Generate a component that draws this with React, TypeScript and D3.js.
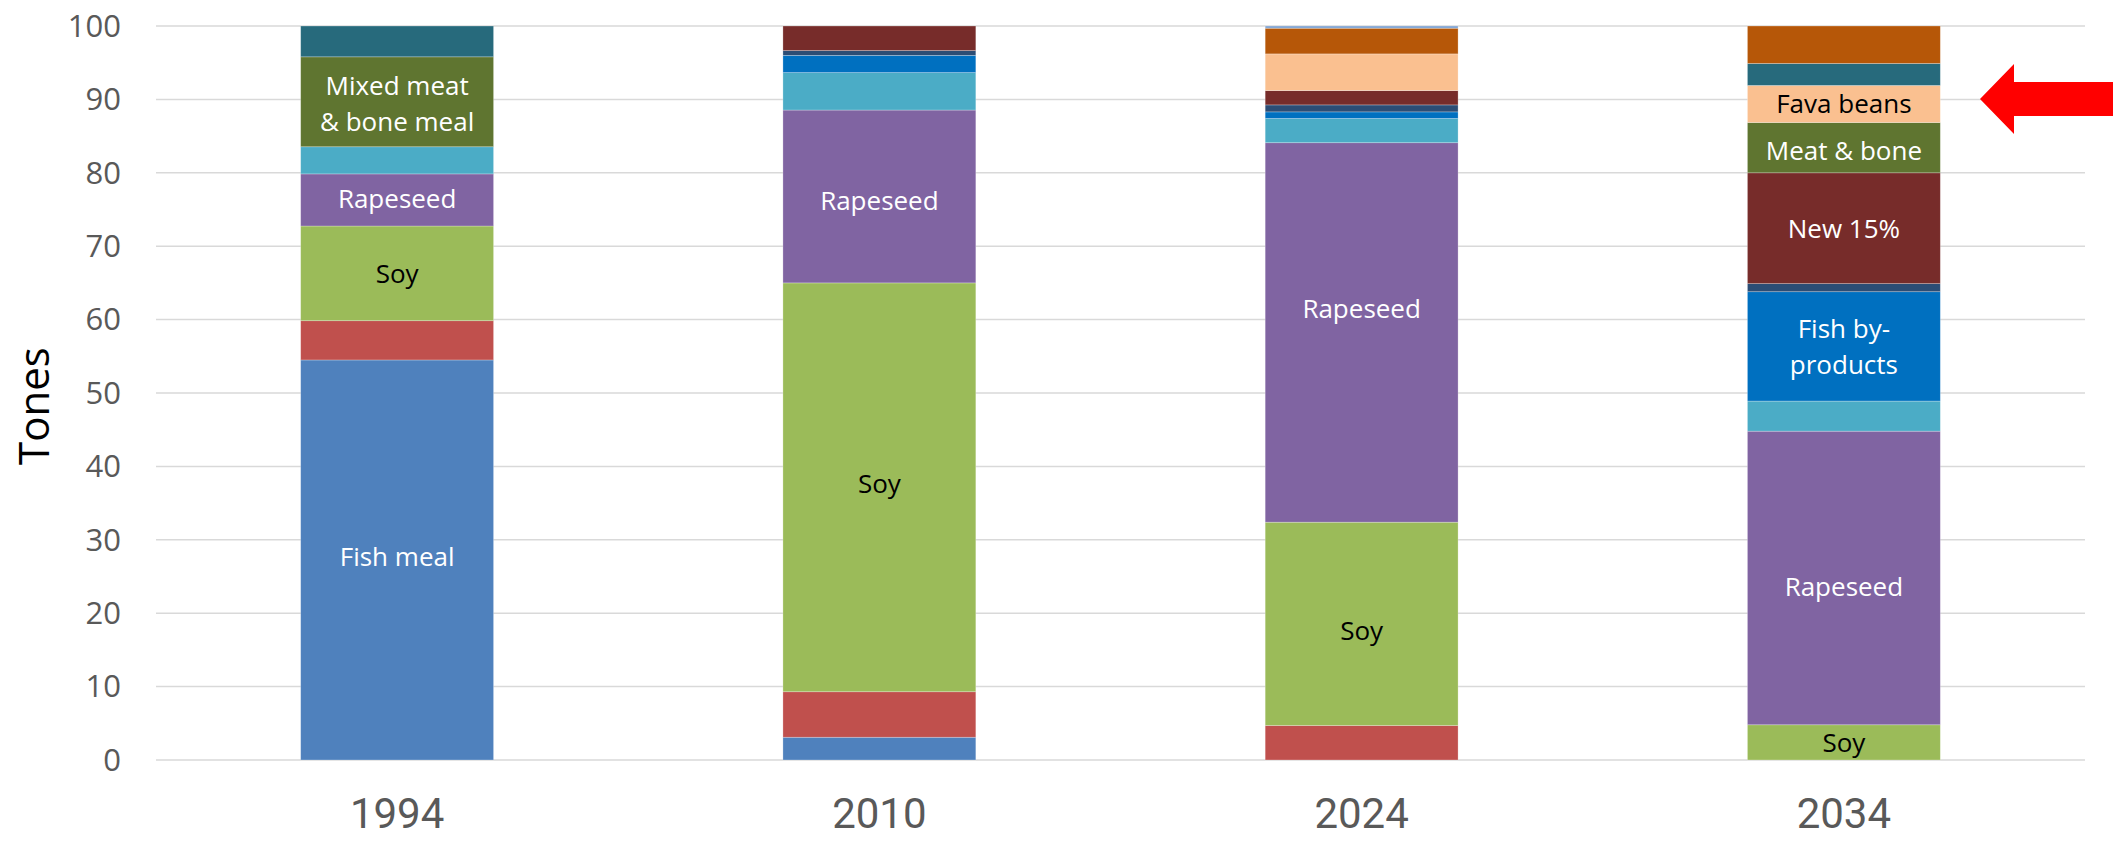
import React from "react";
import * as d3 from "d3";

const years = ["1994", "2010", "2024", "2034"];

const seriesKeys = [
  "fishMeal", "red", "soy", "rapeseed", "cyan", "blue", "navy",
  "darkRed", "green", "peach", "teal", "orange", "lightBlue",
];
const seriesColors = [
  "#4F81BD", "#C0504D", "#9BBB59", "#8064A2", "#4BACC6", "#0070C0", "#2C4D75",
  "#772C2A", "#5F7530", "#FAC090", "#276A7C", "#B65708", "#7EA3D3",
];

const fishMeal = [54.5, 3.1, 0, 0];
const red = [5.35, 6.2, 4.7, 0];
const soy = [12.9, 55.7, 27.7, 4.8];
const rapeseed = [7.1, 23.55, 51.7, 40.0];
const cyan = [3.7, 5.1, 3.3, 4.1];
const blue = [0, 2.35, 0.9, 14.9];
const navy = [0, 0.65, 0.95, 1.1];
const darkRed = [0, 3.35, 1.95, 15.1];
const green = [12.25, 0, 0, 6.85];
const peach = [0, 0, 5.0, 5.05];
const teal = [4.2, 0, 0, 3.0];
const orange = [0, 0, 3.5, 5.1];
const lightBlue = [0, 0, 0.3, 0];

const seriesValues = [
  fishMeal, red, soy, rapeseed, cyan, blue, navy,
  darkRed, green, peach, teal, orange, lightBlue,
];

const yTicks = [0, 10, 20, 30, 40, 50, 60, 70, 80, 90, 100];

const labelYears = [0, 0, 0, 0, 1, 1, 2, 2, 3, 3, 3, 3, 3, 3];
const labelSeries = [
  "fishMeal", "soy", "rapeseed", "green",
  "soy", "rapeseed",
  "soy", "rapeseed",
  "soy", "rapeseed", "blue", "darkRed", "green", "peach",
];
const labelTexts = [
  ["Fish meal"], ["Soy"], ["Rapeseed"], ["Mixed meat", "& bone meal"],
  ["Soy"], ["Rapeseed"],
  ["Soy"], ["Rapeseed"],
  ["Soy"], ["Rapeseed"], ["Fish by-", "products"], ["New 15%"], ["Meat & bone"], ["Fava beans"],
];
const labelColors = [
  "#FFFFFF", "#000000", "#FFFFFF", "#FFFFFF",
  "#000000", "#FFFFFF",
  "#000000", "#FFFFFF",
  "#000000", "#FFFFFF", "#FFFFFF", "#FFFFFF", "#FFFFFF", "#000000",
];
// manual nudges of the label positions (px) as placed in the original
const labelNudge = [-3, 1, -1, 2, -3, 4, 7, -24, 1, 9, 1, 1, 3, 0];

const W = 2113;
const H = 843;

export default function App() {
  const rows = years.map((y, i) => {
    const r: any = { year: y };
    seriesKeys.forEach((k, j) => (r[k] = seriesValues[j][i]));
    return r;
  });
  const stacked = d3.stack<any>().keys(seriesKeys)(rows);

  const x = d3.scaleBand().domain(years).range([156, 2085]).paddingInner(0.6).paddingOuter(0.3);
  const y = d3.scaleLinear().domain([0, 100]).range([760, 26]);
  const font = "'Open Sans', 'Noto Sans', sans-serif";

  const arrow = d3.line()([
    [1980, 99],
    [2014, 64],
    [2014, 82],
    [2113, 82],
    [2113, 116],
    [2014, 116],
    [2014, 134],
  ]) + "Z";

  return (
    <svg
      width={W}
      height={H}
      style={{ position: "absolute", left: 0, top: 0, background: "#fff", display: "block" }}
    >
      <rect x={0} y={0} width={W} height={H} fill="#fff" />
      {yTicks.map((t) => (
        <g key={t}>
          <line x1={156} x2={2085} y1={y(t)} y2={y(t)} stroke="#D9D9D9" strokeWidth={1.5} />
          <text
            x={121}
            y={y(t)}
            dy="0.35em"
            textAnchor="end"
            fontFamily={font}
            fontSize={31}
            fill="#595959"
          >
            {t}
          </text>
        </g>
      ))}
      {stacked.map((s, j) => (
        <g key={s.key} fill={seriesColors[j]}>
          {s.map((d, i) =>
            d[1] - d[0] > 0 ? (
              <rect
                key={i}
                x={x(years[i])}
                width={x.bandwidth()}
                y={y(d[1])}
                height={y(d[0]) - y(d[1])}
                stroke="#ffffff"
                strokeOpacity={0.35}
                strokeWidth={0.75}
              />
            ) : null
          )}
        </g>
      ))}
      {labelTexts.map((lines, li) => {
        const yi = labelYears[li];
        const sj = seriesKeys.indexOf(labelSeries[li]);
        const seg = stacked[sj][yi];
        const cy = y((seg[0] + seg[1]) / 2) + labelNudge[li];
        const cx = (x(years[yi]) as number) + x.bandwidth() / 2;
        const lh = 36;
        const start = cy - ((lines.length - 1) * lh) / 2;
        return (
          <text
            key={li}
            textAnchor="middle"
            fontFamily={font}
            fontSize={26}
            fill={labelColors[li]}
          >
            {lines.map((ln, k) => (
              <tspan key={k} x={cx} y={start + k * lh} dy="0.35em">
                {ln}
              </tspan>
            ))}
          </text>
        );
      })}
      {years.map((yr) => (
        <text
          key={yr}
          x={(x(yr) as number) + x.bandwidth() / 2}
          y={813}
          dy="0.35em"
          textAnchor="middle"
          fontFamily="Roboto, 'Open Sans', sans-serif"
          fontSize={42}
          fill="#595959"
        >
          {yr}
        </text>
      ))}
      <text
        transform={`translate(34, 406) rotate(-90)`}
        textAnchor="middle"
        dy="0.35em"
        fontFamily={font}
        fontSize={42}
        fill="#000"
      >
        Tones
      </text>
      <path d={arrow} fill="#FF0000" />
    </svg>
  );
}
